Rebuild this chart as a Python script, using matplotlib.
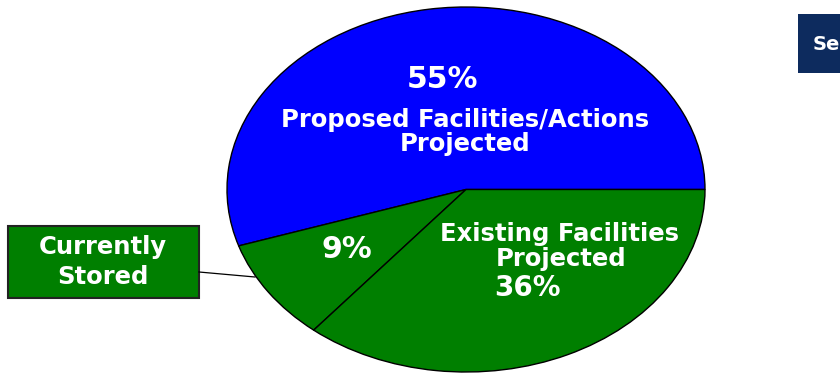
import matplotlib
matplotlib.use("Agg")
import matplotlib.pyplot as plt
from matplotlib.patches import Rectangle

plt.rcParams['font.family'] = ['DejaVu Sans']

# Share of total, counter-clockwise from 3 o'clock
categories = ["Proposed Facilities/Actions Projected", "Currently Stored", "Existing Facilities Projected"]
shares = [55, 9, 36]
colors = ["#0000FF", "#007F00", "#007F00"]

W, H = 840, 373
fig = plt.figure(figsize=(W / 100, H / 100), dpi=100)

# Pie occupies an ellipse: centre (466, 189.5), radii 239 x 182.5 px
cx, cy, rx, ry = 466, 189.5, 239, 182.5
ax = fig.add_axes([(cx - rx) / W, (H - cy - ry) / H, 2 * rx / W, 2 * ry / H])
ax.pie(shares, colors=colors, startangle=0, counterclock=True,
       wedgeprops=dict(edgecolor="black", linewidth=1.0))
ax.set_aspect('auto')
ax.set_xlim(-1, 1)
ax.set_ylim(-1, 1)
ax.axis('off')


def px(x, y):
    """Figure-pixel position (from top-left) to pie axes coordinates."""
    return (x - cx) / rx, (cy - y) / ry


txt = dict(color="white", fontweight="bold", ha="center", va="center")
ax.text(*px(443, 80), f"{shares[0]}%", fontsize=21.5, **txt)
ax.text(*px(465, 120), "Proposed Facilities/Actions", fontsize=17.5, **txt)
ax.text(*px(465, 144), "Projected", fontsize=17.5, **txt)
ax.text(*px(347, 250), f"{shares[1]}%", fontsize=21.5, **txt)
ax.text(*px(560, 234), "Existing Facilities", fontsize=17.5, **txt)
ax.text(*px(561, 259), "Projected", fontsize=17.5, **txt)
ax.text(*px(527, 288), f"{shares[2]}%", fontsize=20, **txt)

# Call-out box for the small slice
ov = fig.add_axes([0, 0, 1, 1], zorder=-1)
ov.set_xlim(0, W)
ov.set_ylim(H, 0)
ov.axis('off')
ov.add_patch(Rectangle((8, 226), 191, 72, facecolor="#007F00",
                       edgecolor="#222222", linewidth=1.5))
ov.text(103, 247, "Currently", fontsize=17.5, **txt)
ov.text(103, 277, "Stored", fontsize=17.5, **txt)
ov.plot([199, 255], [272, 277], color="black", linewidth=0.9)

# Side panel at the right edge
ov.add_patch(Rectangle((798, 14), 60, 59, facecolor="#0D2B5E", edgecolor="none"))
ov.text(813, 44, "Se", fontsize=14, color="white", fontweight="bold",
        ha="left", va="center")

fig.savefig("out.png", dpi=100)
